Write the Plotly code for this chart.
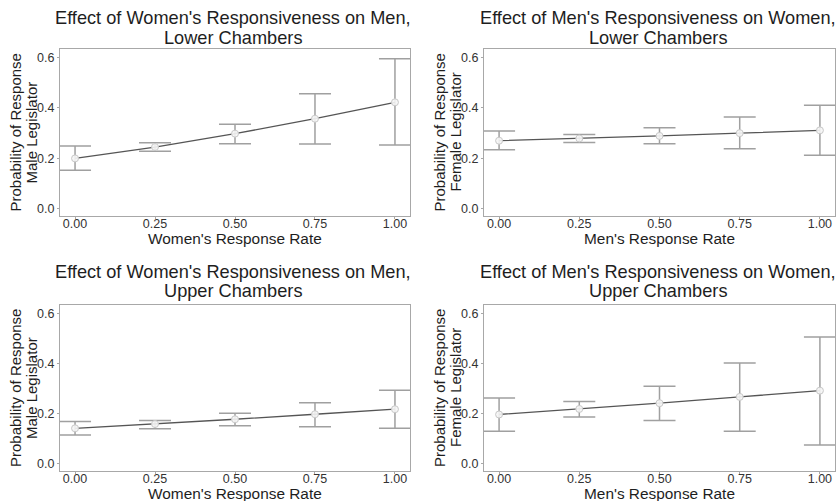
import plotly.graph_objects as go

rates = [0.00, 0.25, 0.50, 0.75, 1.00]
tick_labels = ["0.00", "0.25", "0.50", "0.75", "1.00"]

# Panel 1: Women's responsiveness on men, lower chambers
p1_est = [0.200, 0.245, 0.298, 0.357, 0.422]
p1_lo = [0.153, 0.228, 0.258, 0.257, 0.253]
p1_hi = [0.249, 0.262, 0.335, 0.456, 0.594]

# Panel 2: Men's responsiveness on women, lower chambers
p2_est = [0.270, 0.279, 0.289, 0.300, 0.311]
p2_lo = [0.234, 0.263, 0.258, 0.238, 0.212]
p2_hi = [0.308, 0.295, 0.321, 0.364, 0.410]

# Panel 3: Women's responsiveness on men, upper chambers
p3_est = [0.142, 0.159, 0.178, 0.198, 0.218]
p3_lo = [0.115, 0.140, 0.152, 0.148, 0.142]
p3_hi = [0.169, 0.173, 0.202, 0.244, 0.294]

# Panel 4: Men's responsiveness on women, upper chambers
p4_est = [0.197, 0.219, 0.242, 0.267, 0.292]
p4_lo = [0.130, 0.187, 0.173, 0.130, 0.076]
p4_hi = [0.263, 0.249, 0.309, 0.402, 0.506]

title_line1 = ["Effect of Women's Responsiveness on Men,",
               "Effect of Men's Responsiveness on Women,",
               "Effect of Women's Responsiveness on Men,",
               "Effect of Men's Responsiveness on Women,"]
title_line2 = ["Lower Chambers", "Lower Chambers",
               "Upper Chambers", "Upper Chambers"]
xtitles = ["Women's Response Rate", "Men's Response Rate",
           "Women's Response Rate", "Men's Response Rate"]
ytitle_line1 = ["Probability of Response"] * 4
ytitle_line2 = ["Male Legislator", "Female Legislator",
                "Male Legislator", "Female Legislator"]

panels = [(p1_est, p1_lo, p1_hi), (p2_est, p2_lo, p2_hi),
          (p3_est, p3_lo, p3_hi), (p4_est, p4_lo, p4_hi)]

W, H = 838, 501
# pixel boxes: (left, right, top, bottom)
boxes = [(60, 410, 49, 216), (484, 835, 49, 216),
         (60, 410, 305, 471), (484, 835, 305, 471)]
# per-panel pixel centres for text rows: title1, title2, xtitle
text_rows = [(18.5, 38, 238.5), (18.5, 38, 238.5),
             (272, 291, 493.5), (272, 291, 493.5)]

FONT = "Liberation Sans, Arial, sans-serif"
TXT = "#1e1e1e"
FRAME = "#a8a8a8"
ERR = "#a0a0a0"
LINE = "#555555"

fig = go.Figure()
layout = dict(width=W, height=H, margin=dict(l=0, r=0, t=0, b=0),
              paper_bgcolor="white", plot_bgcolor="white", showlegend=False,
              font=dict(family=FONT, color=TXT))
annotations = []


def ann(text, xpx, ypx, size, angle=0):
    return dict(text=text, x=xpx / W, y=1 - ypx / H, xref="paper",
                yref="paper", xanchor="center", yanchor="middle",
                showarrow=False, textangle=angle,
                font=dict(size=size, color=TXT, family=FONT))


for i, ((est, lo, hi), (l, r, t, b)) in enumerate(zip(panels, boxes)):
    n = "" if i == 0 else str(i + 1)
    xa, ya = "x" + n, "y" + n
    fig.add_trace(go.Scatter(
        x=rates, y=est, mode="markers", xaxis=xa, yaxis=ya,
        marker=dict(size=0.1, color="rgba(0,0,0,0)"),
        error_y=dict(type="data", symmetric=False,
                     array=[h - e for h, e in zip(hi, est)],
                     arrayminus=[e - lo_ for e, lo_ in zip(est, lo)],
                     color=ERR, thickness=1.5, width=16),
        hoverinfo="skip"))
    fig.add_trace(go.Scatter(
        x=rates, y=est, mode="lines", xaxis=xa, yaxis=ya,
        line=dict(color=LINE, width=1.3), hoverinfo="skip"))
    fig.add_trace(go.Scatter(
        x=rates, y=est, mode="markers", xaxis=xa, yaxis=ya,
        marker=dict(size=7, color="rgba(245,245,245,0.9)",
                    line=dict(color="#c8c8c8", width=1))))

    dx = [l / W, r / W]
    dy = [1 - b / H, 1 - t / H]
    axis_common = dict(showgrid=False, zeroline=False, showline=True,
                       linecolor=FRAME, linewidth=1.2, mirror=True,
                       ticks="outside", ticklen=2, tickcolor=FRAME,
                       tickfont=dict(size=12.5, color="#333333", family=FONT))
    layout["xaxis" + n] = dict(domain=dx, range=[-0.047, 1.047],
                               tickvals=rates, ticktext=tick_labels,
                               ticklabelstandoff=-6,
                               anchor=ya, **axis_common)
    layout["yaxis" + n] = dict(domain=dy, range=[-0.028, 0.633],
                               tickvals=[0.0, 0.2, 0.4, 0.6],
                               ticktext=["0.0", "0.2", "0.4", "0.6"],
                               anchor=xa, **axis_common)
    cx = (l + r) / 2
    t1, t2, xt = text_rows[i]
    annotations.append(ann(title_line1[i], cx - 2, t1, 18.2))
    annotations.append(ann(title_line2[i], cx - 2, t2, 18.2))
    annotations.append(ann(xtitles[i], cx, xt, 15.4))
    cy = (t + b) / 2
    annotations.append(ann(ytitle_line1[i], l - 45, cy, 15, -90))
    annotations.append(ann(ytitle_line2[i], l - 29, cy, 15, -90))

layout["annotations"] = annotations
fig.update_layout(**layout)
fig.write_html("out.html", config={"displayModeBar": False},
               post_script="document.body.style.margin='0';"
                           "document.body.style.overflow='hidden';")
